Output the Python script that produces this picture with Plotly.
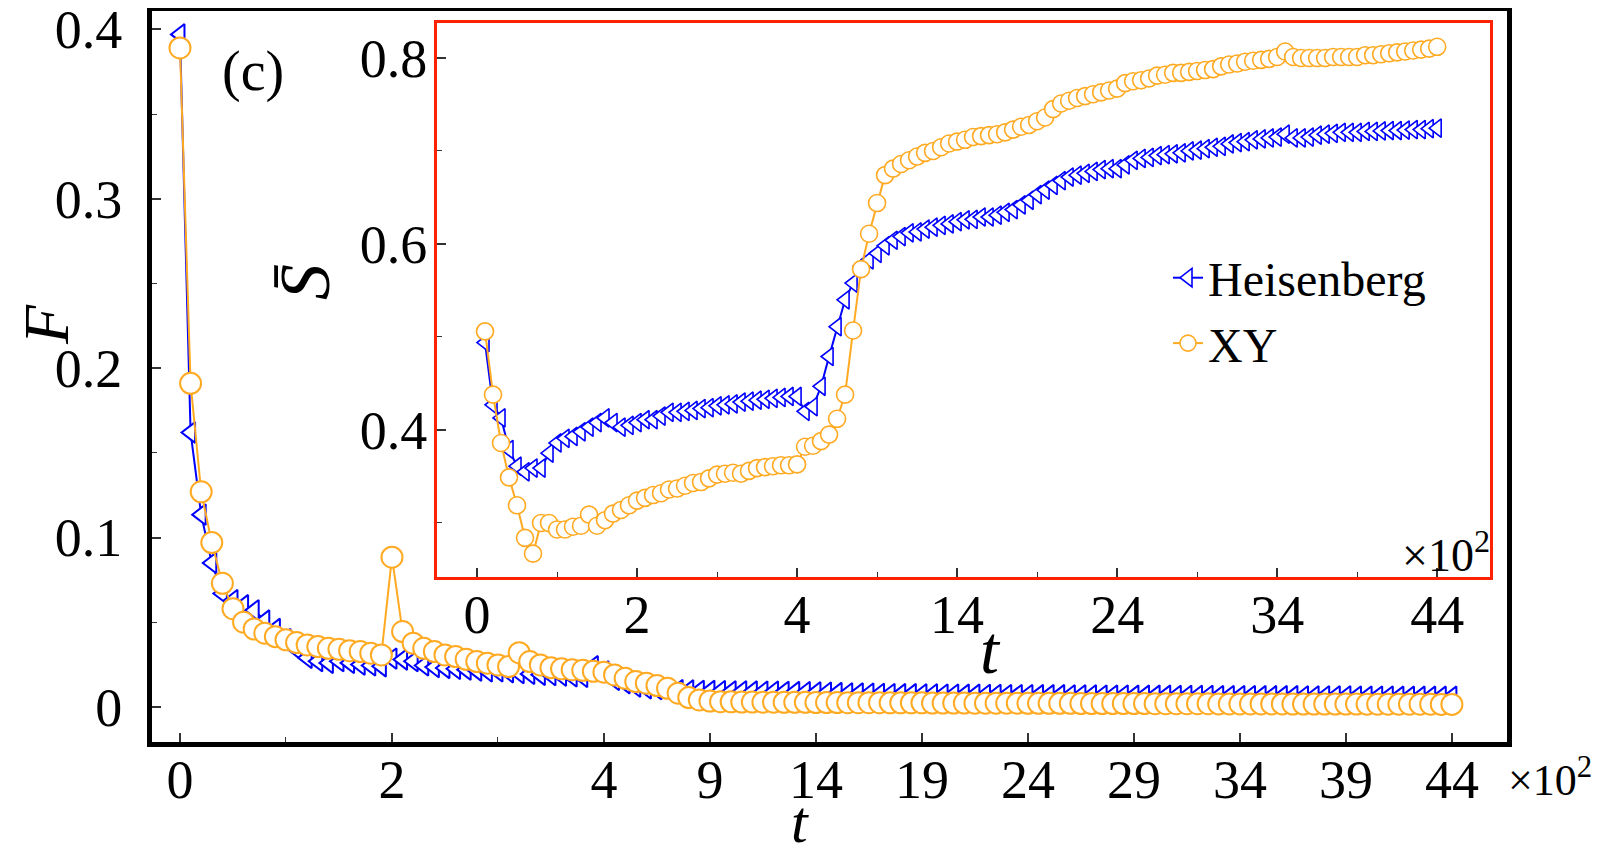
#!/usr/bin/env python3
"""Fidelity F(t) for the Heisenberg and XY chains, with the mean entropy S(t) as inset.

The time axis is broken at t = 4 (x10^2): up to there one unit per 100 steps,
after it the same length covers 500 steps.
"""

import plotly.graph_objects as go

PAGE_W, PAGE_H = 1600, 857
BODY_MARGIN = 8  # default page margin around the plot div
FIG_W, FIG_H = PAGE_W - 2 * BODY_MARGIN, PAGE_H - 2 * BODY_MARGIN
SERIF = "Liberation Serif"
BLUE = "#0000FF"
ORANGE = "#FFAA22"
RED = "#FF2200"

# time samples, in units of 10^2
T_EARLY = [0.0, 0.1, 0.2, 0.3, 0.4, 0.5, 0.6, 0.7, 0.8, 0.9,
           1.0, 1.1, 1.2, 1.3, 1.4, 1.5, 1.6, 1.7, 1.8, 1.9,
           2.0, 2.1, 2.2, 2.3, 2.4, 2.5, 2.6, 2.7, 2.8, 2.9,
           3.0, 3.1, 3.2, 3.3, 3.4, 3.5, 3.6, 3.7, 3.8, 3.9, 4.0]
T_LATE = [4.5, 5.0, 5.5, 6.0, 6.5, 7.0, 7.5, 8.0, 8.5, 9.0,
          9.5, 10.0, 10.5, 11.0, 11.5, 12.0, 12.5, 13.0, 13.5, 14.0,
          14.5, 15.0, 15.5, 16.0, 16.5, 17.0, 17.5, 18.0, 18.5, 19.0,
          19.5, 20.0, 20.5, 21.0, 21.5, 22.0, 22.5, 23.0, 23.5, 24.0,
          24.5, 25.0, 25.5, 26.0, 26.5, 27.0, 27.5, 28.0, 28.5, 29.0,
          29.5, 30.0, 30.5, 31.0, 31.5, 32.0, 32.5, 33.0, 33.5, 34.0,
          34.5, 35.0, 35.5, 36.0, 36.5, 37.0, 37.5, 38.0, 38.5, 39.0,
          39.5, 40.0, 40.5, 41.0, 41.5, 42.0, 42.5, 43.0, 43.5, 44.0]

# main panel: F on T_EARLY + T_LATE
F_HEIS = [0.397, 0.162, 0.1135, 0.085, 0.067, 0.063, 0.060, 0.057, 0.051, 0.046,
          0.040, 0.034, 0.029, 0.027, 0.026, 0.027, 0.026, 0.025, 0.0245, 0.024,
          0.0285, 0.028, 0.027, 0.0245, 0.0235, 0.023, 0.0225, 0.022, 0.0215, 0.021,
          0.021, 0.0205, 0.020, 0.0195, 0.019, 0.0188, 0.0185, 0.018, 0.0178, 0.024, 0.021,
          0.0160, 0.0140, 0.0120, 0.0110, 0.0105, 0.0102, 0.0099, 0.0097, 0.0095, 0.0094,
          0.0093, 0.0092, 0.0092, 0.0091, 0.0090, 0.0090, 0.0089, 0.0088, 0.0087, 0.0086,
          0.0084, 0.0082, 0.0080, 0.0079, 0.0078, 0.0077, 0.0076, 0.0075, 0.0075, 0.0074,
          0.0074, 0.0073, 0.0073, 0.0072, 0.0072, 0.0071, 0.0071, 0.0070, 0.0070, 0.0070,
          0.0069, 0.0069, 0.0069, 0.0068, 0.0068, 0.0068, 0.0067, 0.0067, 0.0067, 0.0066,
          0.0066, 0.0066, 0.0066, 0.0065, 0.0065, 0.0065, 0.0065, 0.0064, 0.0064, 0.0064,
          0.0064, 0.0063, 0.0063, 0.0063, 0.0063, 0.0062, 0.0062, 0.0062, 0.0062, 0.0062,
          0.0061, 0.0061, 0.0061, 0.0061, 0.0060, 0.0060, 0.0060, 0.0060, 0.0060, 0.0060]
F_XY = [0.389, 0.191, 0.127, 0.097, 0.073, 0.058, 0.050, 0.046, 0.0435, 0.0415,
        0.0396, 0.038, 0.0366, 0.0356, 0.0346, 0.034, 0.0332, 0.0327, 0.0317, 0.0307,
        0.0884, 0.0445, 0.0376, 0.0346, 0.0327, 0.0307, 0.0297, 0.0281, 0.0268, 0.0258,
        0.0248, 0.0238, 0.032, 0.0268, 0.0248, 0.0232, 0.0225, 0.022, 0.0216, 0.021, 0.0205,
        0.0189, 0.0169, 0.0150, 0.0140, 0.0126, 0.0110, 0.0081, 0.0055, 0.0041, 0.0035,
        0.0031, 0.0030, 0.0029, 0.0029, 0.0028, 0.0028, 0.0027, 0.0027, 0.0027, 0.0026,
        0.0026, 0.0026, 0.0025, 0.0025, 0.0025, 0.0025, 0.0024, 0.0024, 0.0024, 0.0024,
        0.0023, 0.0023, 0.0023, 0.0023, 0.0022, 0.0022, 0.0022, 0.0022, 0.0022, 0.0021,
        0.0021, 0.0021, 0.0021, 0.0021, 0.0020, 0.0020, 0.0020, 0.0020, 0.0020, 0.0020,
        0.0020, 0.0019, 0.0019, 0.0019, 0.0019, 0.0019, 0.0019, 0.0018, 0.0018, 0.0018,
        0.0018, 0.0018, 0.0018, 0.0018, 0.0017, 0.0017, 0.0017, 0.0017, 0.0017, 0.0017,
        0.0017, 0.0016, 0.0016, 0.0016, 0.0016, 0.0016, 0.0016, 0.0016, 0.0015, 0.0015]

# inset: mean entropy on T_EARLY[1:] + T_LATE
S_HEIS = [0.494, 0.427, 0.413, 0.379, 0.361, 0.355, 0.359, 0.359, 0.375, 0.386,
          0.391, 0.393, 0.398, 0.403, 0.408, 0.413, 0.408, 0.403, 0.405, 0.408,
          0.411, 0.411, 0.415, 0.419, 0.419, 0.420, 0.421, 0.423, 0.424, 0.426,
          0.427, 0.428, 0.430, 0.431, 0.432, 0.433, 0.434, 0.435, 0.436, 0.436,
          0.420, 0.425, 0.447, 0.479, 0.511, 0.540, 0.558, 0.576, 0.583, 0.590,
          0.598, 0.604, 0.608, 0.612, 0.613, 0.616, 0.618, 0.620, 0.6215, 0.624,
          0.626, 0.6265, 0.629, 0.629, 0.631, 0.634, 0.637, 0.642, 0.647, 0.653,
          0.658, 0.663, 0.668, 0.672, 0.674, 0.676, 0.678, 0.680, 0.681, 0.681,
          0.685, 0.690, 0.692, 0.693, 0.695, 0.696, 0.697, 0.698, 0.700, 0.701,
          0.7025, 0.704, 0.705, 0.7075, 0.709, 0.710, 0.712, 0.713, 0.714, 0.715,
          0.718, 0.714, 0.714, 0.715, 0.717, 0.718, 0.719, 0.720, 0.720, 0.720,
          0.721, 0.721, 0.7215, 0.722, 0.722, 0.7225, 0.723, 0.723, 0.724, 0.7245]
S_XY = [0.506, 0.438, 0.386, 0.349, 0.319, 0.284, 0.267, 0.300, 0.300, 0.293,
        0.293, 0.296, 0.297, 0.309, 0.297, 0.303, 0.310, 0.314, 0.319, 0.324,
        0.327, 0.330, 0.332, 0.336, 0.337, 0.340, 0.343, 0.344, 0.348, 0.352,
        0.353, 0.354, 0.353, 0.356, 0.359, 0.360, 0.361, 0.362, 0.362, 0.363,
        0.382, 0.383, 0.388, 0.395, 0.412, 0.438, 0.507, 0.573, 0.611, 0.644,
        0.674, 0.681, 0.686, 0.690, 0.694, 0.698, 0.700, 0.704, 0.708, 0.710,
        0.712, 0.715, 0.716, 0.717, 0.718, 0.720, 0.723, 0.726, 0.728, 0.732,
        0.736, 0.745, 0.751, 0.754, 0.757, 0.759, 0.761, 0.763, 0.765, 0.767,
        0.773, 0.775, 0.776, 0.778, 0.781, 0.782, 0.784, 0.784, 0.785, 0.786,
        0.787, 0.788, 0.791, 0.793, 0.794, 0.796, 0.797, 0.798, 0.799, 0.801,
        0.807, 0.801, 0.800, 0.800, 0.800, 0.800, 0.801, 0.801, 0.801, 0.801,
        0.803, 0.803, 0.804, 0.805, 0.806, 0.807, 0.808, 0.809, 0.810, 0.812]

MAIN_TICKS = [0, 2, 4, 9, 14, 19, 24, 29, 34, 39, 44]
MAIN_MINOR = [1, 3]
INSET_TICKS = [0, 2, 4, 14, 24, 34, 44]
INSET_MINOR = [1, 3, 9, 19, 29, 39]
F_TICKS = [0, 0.1, 0.2, 0.3, 0.4]
F_TICK_TEXT = ["0", "0.1", "0.2", "0.3", "0.4"]
F_MINOR = [0.05, 0.15, 0.25, 0.35]
S_TICKS = [0.4, 0.6, 0.8]
S_MINOR = [0.3, 0.5, 0.7]

BREAK_AT = 4.0   # axis break, x10^2
SQUEEZE = 5.0    # compression after the break


def squeeze(t):
    """Map t onto the broken axis coordinate."""
    return t if t <= BREAK_AT else BREAK_AT + (t - BREAK_AT) / SQUEEZE


# page pixel -> paper fraction (the div sits inside the body margin)
def px_x(p):
    return (p - BODY_MARGIN) / FIG_W


def px_y(p):
    return 1 - (p - BODY_MARGIN) / FIG_H


def axis_style(ticks, text, minor, lw, color, standoff):
    return dict(
        tickmode="array", tickvals=ticks, ticktext=text,
        ticks="inside", ticklen=9, tickwidth=1.5, tickcolor="#333",
        minor=dict(tickvals=minor, ticks="inside", ticklen=5, tickwidth=1.2, tickcolor="#333"),
        showline=True, mirror=True, linecolor=color, linewidth=lw,
        showgrid=False, zeroline=False, automargin=False,
        tickfont=dict(family=SERIF, size=54, color="black"),
        ticklabelstandoff=standoff, ticklabeloverflow="allow",
    )


def main():
    t_main = T_EARLY + T_LATE
    t_inset = T_EARLY[1:] + T_LATE
    u_main = [squeeze(t) for t in t_main]
    u_inset = [squeeze(t) for t in t_inset]

    fig = go.Figure()

    # main panel
    fig.add_trace(go.Scatter(
        x=u_main, y=F_HEIS, mode="lines+markers", name="Heisenberg", showlegend=False,
        line=dict(color=BLUE, width=2),
        marker=dict(symbol="triangle-left", size=18, color="white", line=dict(color=BLUE, width=2)),
        xaxis="x", yaxis="y",
    ))
    fig.add_trace(go.Scatter(
        x=u_main, y=F_XY, mode="lines+markers", name="XY", showlegend=False,
        line=dict(color=ORANGE, width=2),
        marker=dict(symbol="circle", size=21, color="white", line=dict(color=ORANGE, width=2)),
        xaxis="x", yaxis="y",
    ))

    # inset
    fig.add_trace(go.Scatter(
        x=u_inset, y=S_HEIS, mode="lines+markers", name="Heisenberg",
        line=dict(color=BLUE, width=2),
        marker=dict(symbol="triangle-left", size=16, color="white", line=dict(color=BLUE, width=1.6)),
        xaxis="x2", yaxis="y2",
    ))
    fig.add_trace(go.Scatter(
        x=u_inset, y=S_XY, mode="lines+markers", name="XY",
        line=dict(color=ORANGE, width=2),
        marker=dict(symbol="circle", size=17, color="white", line=dict(color=ORANGE, width=1.6)),
        xaxis="x2", yaxis="y2",
    ))

    main_x = axis_style([squeeze(t) for t in MAIN_TICKS], [str(t) for t in MAIN_TICKS],
                        [squeeze(t) for t in MAIN_MINOR], 5, "black", -14)
    main_x.update(domain=[px_x(152), px_x(1507)], range=[-0.264, 12.52], anchor="y")
    main_y = axis_style(F_TICKS, F_TICK_TEXT, F_MINOR, 5, "black", 14)
    main_y.update(domain=[px_y(742), px_y(11)], range=[-0.0207, 0.4108], anchor="x")

    inset_x = axis_style([squeeze(t) for t in INSET_TICKS], [str(t) for t in INSET_TICKS],
                         [squeeze(t) for t in INSET_MINOR], 3, RED, -12)
    inset_x.update(domain=[px_x(437), px_x(1490)], range=[-0.5, 12.66], anchor="y2")
    inset_y = axis_style(S_TICKS, [str(v) for v in S_TICKS], S_MINOR, 3, RED, -4)
    inset_y.update(domain=[px_y(577), px_y(23)], range=[0.2419, 0.8376], anchor="x2")

    def label(text, x, y, size, angle=0):
        return dict(text=text, x=px_x(x), y=px_y(y), xref="paper", yref="paper",
                    showarrow=False, textangle=angle, xanchor="center", yanchor="middle",
                    font=dict(family=SERIF, size=size, color="black"))

    fig.update_layout(
        width=FIG_W, height=FIG_H, autosize=False,
        margin=dict(l=0, r=0, t=0, b=0),
        paper_bgcolor="white", plot_bgcolor="white",
        xaxis=main_x, yaxis=main_y, xaxis2=inset_x, yaxis2=inset_y,
        shapes=[dict(type="rect", xref="x2 domain", yref="y2 domain",
                     x0=0, x1=1, y0=0, y1=1, layer="below",
                     fillcolor="white", line=dict(width=0))],
        legend=dict(x=px_x(1168), y=px_y(240), xanchor="left", yanchor="top",
                    bgcolor="rgba(0,0,0,0)", font=dict(family=SERIF, size=48, color="black"),
                    itemsizing="trace"),
        annotations=[
            label("<i>F</i>", 46, 325, 64, -90),
            label("<i>t</i>", 800, 822, 60),
            label("(c)", 253, 72, 56),
            label("\u00d710<sup>2</sup>", 1550, 777, 44),
            label("<i>S\u0304</i>", 305, 282, 72, -90),
            label("<i>t</i>", 990, 650, 68),
            label("\u00d710<sup>2</sup>", 1446, 552, 46),
        ],
    )

    fig.write_html("out.html")


if __name__ == "__main__":
    main()
